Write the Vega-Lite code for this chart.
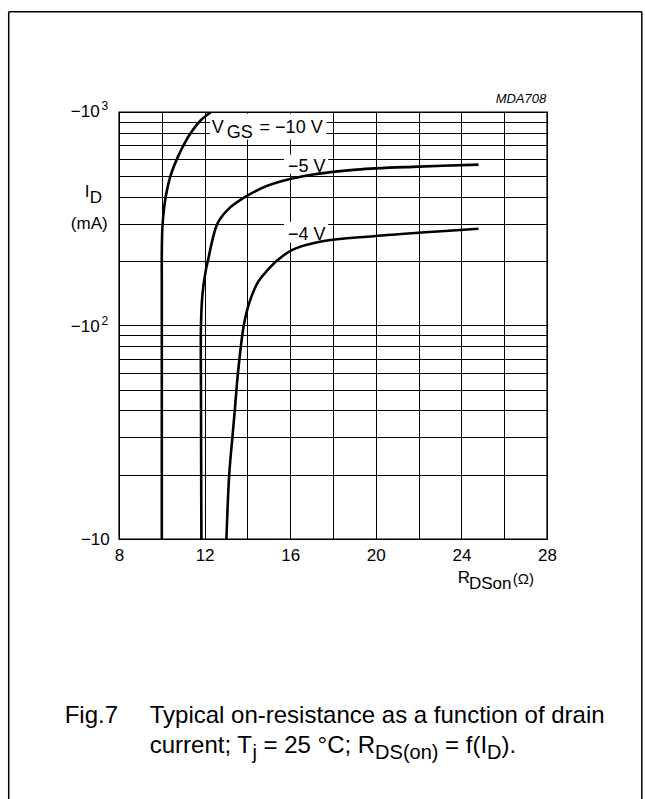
{
  "$schema": "https://vega.github.io/schema/vega-lite/v6.json",
  "autosize": {"type": "none"},
  "width": 428,
  "height": 427,
  "padding": {"left": 119, "top": 112, "right": 98, "bottom": 260},
  "background": "white",
  "config": {
    "view": {"stroke": "black", "strokeWidth": 1.4},
    "font": "Liberation Sans",
    "axis": {
      "grid": true, "gridColor": "black", "gridWidth": 1, "gridOpacity": 1,
      "ticks": false, "domain": false, "labelColor": "black",
      "labelFont": "Liberation Sans", "labelFontSize": 17, "labelOverlap": false,
      "labelBound": false, "labelFlush": false
    },
    "text": {"font": "Liberation Sans", "color": "black"}
  },
  "datasets": {
    "curves": [
      {"VGS": "-10 V", "R": 10.0, "ID": -10},
      {"VGS": "-10 V", "R": 10.0, "ID": -50},
      {"VGS": "-10 V", "R": 10.0, "ID": -150},
      {"VGS": "-10 V", "R": 10.0, "ID": -220},
      {"VGS": "-10 V", "R": 10.03, "ID": -290},
      {"VGS": "-10 V", "R": 10.1, "ID": -350},
      {"VGS": "-10 V", "R": 10.2, "ID": -410},
      {"VGS": "-10 V", "R": 10.4, "ID": -500},
      {"VGS": "-10 V", "R": 10.7, "ID": -600},
      {"VGS": "-10 V", "R": 11.05, "ID": -710},
      {"VGS": "-10 V", "R": 11.4, "ID": -810},
      {"VGS": "-10 V", "R": 11.8, "ID": -910},
      {"VGS": "-10 V", "R": 12.3, "ID": -1000},
      {"VGS": "-5 V", "R": 11.85, "ID": -10},
      {"VGS": "-5 V", "R": 11.83, "ID": -50},
      {"VGS": "-5 V", "R": 11.83, "ID": -100},
      {"VGS": "-5 V", "R": 11.9, "ID": -140},
      {"VGS": "-5 V", "R": 12.05, "ID": -180},
      {"VGS": "-5 V", "R": 12.15, "ID": -200},
      {"VGS": "-5 V", "R": 12.6, "ID": -300},
      {"VGS": "-5 V", "R": 13.1, "ID": -350},
      {"VGS": "-5 V", "R": 13.9, "ID": -400},
      {"VGS": "-5 V", "R": 14.9, "ID": -450},
      {"VGS": "-5 V", "R": 16.6, "ID": -500},
      {"VGS": "-5 V", "R": 19.1, "ID": -537},
      {"VGS": "-5 V", "R": 22.0, "ID": -555},
      {"VGS": "-5 V", "R": 24.8, "ID": -567},
      {"VGS": "-4 V", "R": 13.02, "ID": -10},
      {"VGS": "-4 V", "R": 13.15, "ID": -20},
      {"VGS": "-4 V", "R": 13.3, "ID": -30},
      {"VGS": "-4 V", "R": 13.41, "ID": -40},
      {"VGS": "-4 V", "R": 13.56, "ID": -60},
      {"VGS": "-4 V", "R": 13.83, "ID": -100},
      {"VGS": "-4 V", "R": 14.08, "ID": -127},
      {"VGS": "-4 V", "R": 14.5, "ID": -160},
      {"VGS": "-4 V", "R": 14.95, "ID": -182},
      {"VGS": "-4 V", "R": 15.4, "ID": -202},
      {"VGS": "-4 V", "R": 16.1, "ID": -226},
      {"VGS": "-4 V", "R": 17.5, "ID": -248},
      {"VGS": "-4 V", "R": 19.9, "ID": -262},
      {"VGS": "-4 V", "R": 22.5, "ID": -274},
      {"VGS": "-4 V", "R": 24.8, "ID": -284}
    ],
    "boxes": [
      {"R1": 12.25, "R2": 17.7, "ID1": -982, "ID2": -741},
      {"R1": 15.71, "R2": 17.77, "ID1": -630, "ID2": -514},
      {"R1": 15.71, "R2": 17.77, "ID1": -306, "ID2": -244}
    ],
    "frame": [
      {"x1": 2.846, "x2": 2.846, "y1": -2951, "y2": -0.5},
      {"x1": 32.43, "x2": 32.43, "y1": -2951, "y2": -0.5},
      {"x1": 2.846, "x2": 32.43, "y1": -2951, "y2": -2951}
    ],
    "labels": [
      {"R": 12.33, "ID": -800, "text": "V", "kind": "ann"},
      {"R": 13.03, "ID": -800, "text": "GS", "kind": "annsub"},
      {"R": 14.57, "ID": -800, "text": "= −10 V", "kind": "ann"},
      {"R": 15.9, "ID": -525, "text": "−5 V", "kind": "ann"},
      {"R": 15.9, "ID": -252, "text": "−4 V", "kind": "ann"},
      {"R": 5.75, "ID": -950.7, "text": "−10", "kind": "main"},
      {"R": 7.18, "ID": -1025, "text": "3", "kind": "sup"},
      {"R": 5.75, "ID": -93.4, "text": "−10", "kind": "main"},
      {"R": 7.18, "ID": -100.8, "text": "2", "kind": "sup"},
      {"R": 6.22, "ID": -9.38, "text": "−10", "kind": "main"},
      {"R": 6.4, "ID": -401, "text": "I", "kind": "main"},
      {"R": 6.63, "ID": -401, "text": "D", "kind": "sub"},
      {"R": 5.75, "ID": -284, "text": "(mA)", "kind": "main"},
      {"R": 23.83, "ID": -6.23, "text": "R", "kind": "main"},
      {"R": 24.35, "ID": -6.23, "text": "DSon", "kind": "sub"},
      {"R": 26.4, "ID": -6.16, "text": "(Ω)", "kind": "small"},
      {"R": 25.6, "ID": -1106, "text": "MDA708", "kind": "id"},
      {"R": 5.463, "ID": -1.375, "text": "Fig.7", "kind": "cap"},
      {"R": 9.435, "ID": -1.375, "text": "Typical on-resistance as a function of drain", "kind": "cap"},
      {"R": 9.435, "ID": -0.9947, "text": "current; T", "kind": "cap"},
      {"R": 14.234, "ID": -0.9947, "text": "j", "kind": "capsub"},
      {"R": 14.752, "ID": -0.9947, "text": "= 25 °C; R", "kind": "cap"},
      {"R": 19.967, "ID": -0.9947, "text": "DS(on)", "kind": "capsub"},
      {"R": 23.238, "ID": -0.9947, "text": "= f(I", "kind": "cap"},
      {"R": 25.201, "ID": -0.9947, "text": "D", "kind": "capsub"},
      {"R": 25.874, "ID": -0.9947, "text": ").", "kind": "cap"}
    ]
  },
  "layer": [
    {
      "data": {"name": "boxes"},
      "mark": {"type": "rect", "fill": "white", "stroke": null},
      "encoding": {
        "x": {"field": "R1", "type": "quantitative", "title": null, "scale": {"domain": [8, 28], "nice": false, "zero": false}},
        "x2": {"field": "R2"},
        "y": {"field": "ID1", "type": "quantitative", "title": null, "scale": {"type": "log", "domain": [-1000, -10], "reverse": true, "nice": false}},
        "y2": {"field": "ID2"}
      }
    },
    {
      "data": {"name": "frame"},
      "mark": {"type": "rule", "color": "black", "strokeWidth": 1.5},
      "encoding": {
        "x": {"field": "x1", "type": "quantitative", "title": null, "scale": {"domain": [8, 28], "nice": false, "zero": false}},
        "x2": {"field": "x2"},
        "y": {"field": "y1", "type": "quantitative", "title": null, "scale": {"type": "log", "domain": [-1000, -10], "reverse": true, "nice": false}},
        "y2": {"field": "y2"}
      }
    },
    {
      "data": {"name": "curves"},
      "mark": {"type": "line", "color": "black", "strokeWidth": 2.6, "interpolate": "catmull-rom", "clip": true},
      "encoding": {
        "x": {
          "field": "R", "type": "quantitative", "title": null,
          "scale": {"domain": [8, 28], "nice": false, "zero": false},
          "axis": {
            "values": [8, 10, 12, 14, 16, 18, 20, 22, 24, 26, 28],
            "labelExpr": "datum.value % 4 == 0 ? datum.label : ''",
            "labelPadding": 8
          }
        },
        "y": {
          "field": "ID", "type": "quantitative", "title": null,
          "scale": {"type": "log", "domain": [-1000, -10], "reverse": true, "nice": false},
          "axis": {
            "values": [-10, -20, -30, -40, -50, -60, -70, -80, -90, -100, -200, -300, -400, -500, -600, -700, -800, -900, -1000],
            "labels": false
          }
        },
        "detail": {"field": "VGS"},
        "order": {"field": "ID", "type": "quantitative"}
      }
    },
    {
      "data": {"name": "labels"},
      "transform": [{"filter": "datum.kind == 'main'"}],
      "mark": {"type": "text", "align": "left", "baseline": "alphabetic", "fontSize": 17},
      "encoding": {
        "x": {"field": "R", "type": "quantitative", "title": null, "scale": {"domain": [8, 28], "nice": false, "zero": false}},
        "y": {"field": "ID", "type": "quantitative", "title": null, "scale": {"type": "log", "domain": [-1000, -10], "reverse": true, "nice": false}},
        "text": {"field": "text"}
      }
    },
    {
      "data": {"name": "labels"},
      "transform": [{"filter": "datum.kind == 'sub'"}],
      "mark": {"type": "text", "align": "left", "baseline": "alphabetic", "fontSize": 17, "dy": 6},
      "encoding": {
        "x": {"field": "R", "type": "quantitative", "title": null, "scale": {"domain": [8, 28], "nice": false, "zero": false}},
        "y": {"field": "ID", "type": "quantitative", "title": null, "scale": {"type": "log", "domain": [-1000, -10], "reverse": true, "nice": false}},
        "text": {"field": "text"}
      }
    },
    {
      "data": {"name": "labels"},
      "transform": [{"filter": "datum.kind == 'ann'"}],
      "mark": {"type": "text", "align": "left", "baseline": "alphabetic", "fontSize": 18},
      "encoding": {
        "x": {"field": "R", "type": "quantitative", "title": null, "scale": {"domain": [8, 28], "nice": false, "zero": false}},
        "y": {"field": "ID", "type": "quantitative", "title": null, "scale": {"type": "log", "domain": [-1000, -10], "reverse": true, "nice": false}},
        "text": {"field": "text"}
      }
    },
    {
      "data": {"name": "labels"},
      "transform": [{"filter": "datum.kind == 'annsub'"}],
      "mark": {"type": "text", "align": "left", "baseline": "alphabetic", "fontSize": 18, "dy": 5},
      "encoding": {
        "x": {"field": "R", "type": "quantitative", "title": null, "scale": {"domain": [8, 28], "nice": false, "zero": false}},
        "y": {"field": "ID", "type": "quantitative", "title": null, "scale": {"type": "log", "domain": [-1000, -10], "reverse": true, "nice": false}},
        "text": {"field": "text"}
      }
    },
    {
      "data": {"name": "labels"},
      "transform": [{"filter": "datum.kind == 'sup'"}],
      "mark": {"type": "text", "align": "left", "baseline": "alphabetic", "fontSize": 12},
      "encoding": {
        "x": {"field": "R", "type": "quantitative", "title": null, "scale": {"domain": [8, 28], "nice": false, "zero": false}},
        "y": {"field": "ID", "type": "quantitative", "title": null, "scale": {"type": "log", "domain": [-1000, -10], "reverse": true, "nice": false}},
        "text": {"field": "text"}
      }
    },
    {
      "data": {"name": "labels"},
      "transform": [{"filter": "datum.kind == 'small'"}],
      "mark": {"type": "text", "align": "left", "baseline": "alphabetic", "fontSize": 15},
      "encoding": {
        "x": {"field": "R", "type": "quantitative", "title": null, "scale": {"domain": [8, 28], "nice": false, "zero": false}},
        "y": {"field": "ID", "type": "quantitative", "title": null, "scale": {"type": "log", "domain": [-1000, -10], "reverse": true, "nice": false}},
        "text": {"field": "text"}
      }
    },
    {
      "data": {"name": "labels"},
      "transform": [{"filter": "datum.kind == 'id'"}],
      "mark": {"type": "text", "align": "left", "baseline": "alphabetic", "fontSize": 13, "fontStyle": "italic"},
      "encoding": {
        "x": {"field": "R", "type": "quantitative", "title": null, "scale": {"domain": [8, 28], "nice": false, "zero": false}},
        "y": {"field": "ID", "type": "quantitative", "title": null, "scale": {"type": "log", "domain": [-1000, -10], "reverse": true, "nice": false}},
        "text": {"field": "text"}
      }
    },
    {
      "data": {"name": "labels"},
      "transform": [{"filter": "datum.kind == 'cap'"}],
      "mark": {"type": "text", "align": "left", "baseline": "alphabetic", "fontSize": 24},
      "encoding": {
        "x": {"field": "R", "type": "quantitative", "title": null, "scale": {"domain": [8, 28], "nice": false, "zero": false}},
        "y": {"field": "ID", "type": "quantitative", "title": null, "scale": {"type": "log", "domain": [-1000, -10], "reverse": true, "nice": false}},
        "text": {"field": "text"}
      }
    },
    {
      "data": {"name": "labels"},
      "transform": [{"filter": "datum.kind == 'capsub'"}],
      "mark": {"type": "text", "align": "left", "baseline": "alphabetic", "fontSize": 20, "dy": 6},
      "encoding": {
        "x": {"field": "R", "type": "quantitative", "title": null, "scale": {"domain": [8, 28], "nice": false, "zero": false}},
        "y": {"field": "ID", "type": "quantitative", "title": null, "scale": {"type": "log", "domain": [-1000, -10], "reverse": true, "nice": false}},
        "text": {"field": "text"}
      }
    }
  ]
}
